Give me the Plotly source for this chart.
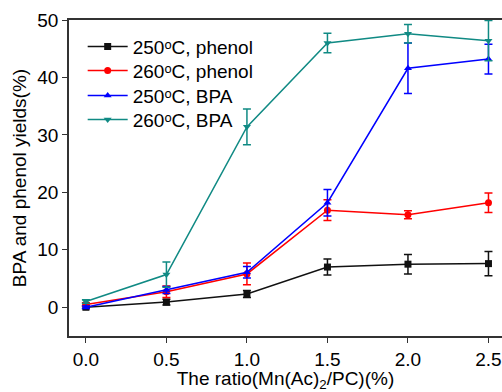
import plotly.graph_objects as go

x = [0.0, 0.5, 1.0, 1.5, 2.0, 2.5]

phenol_250 = [0.0, 0.9, 2.3, 7.0, 7.5, 7.6]
phenol_250_err = [0.2, 0.5, 0.6, 1.4, 1.7, 2.1]

phenol_260 = [0.5, 2.7, 5.8, 16.9, 16.1, 18.2]
phenol_260_err = [0.3, 1.0, 1.9, 1.8, 0.7, 1.7]

bpa_250 = [0.0, 3.0, 6.1, 18.2, 41.6, 43.2]
bpa_250_err = [0.2, 0.6, 1.0, 2.3, 4.4, 2.6]

bpa_260 = [1.0, 5.7, 31.4, 46.0, 47.6, 46.4]
bpa_260_err = [0.3, 2.2, 3.1, 1.7, 1.6, 3.5]

names = ["250ᵒC, phenol", "260ᵒC, phenol", "250ᵒC, BPA", "260ᵒC, BPA"]
series = [phenol_250, phenol_260, bpa_250, bpa_260]
errors = [phenol_250_err, phenol_260_err, bpa_250_err, bpa_260_err]
colors = ["#111111", "#ff0000", "#0000ff", "#108a84"]
symbols = ["square", "circle", "triangle-up", "triangle-down"]
legend_ids = ["legend", "legend2", "legend3", "legend4"]
legend_y = [0.976, 0.900, 0.821, 0.745]

fig = go.Figure()
for name, y, e, c, s, lg in zip(names, series, errors, colors, symbols, legend_ids):
    fig.add_trace(go.Scatter(
        x=x, y=y, name=name, mode="lines+markers", legend=lg,
        line=dict(color=c, width=1.5),
        marker=dict(symbol=s, size=7, color=c),
        error_y=dict(type="data", array=e, visible=True, color=c,
                     thickness=1.5, width=4),
    ))

legend_common = dict(x=0.0316, xanchor="left", yanchor="top",
                     bgcolor="rgba(0,0,0,0)", font=dict(size=19),
                     tracegroupgap=0, itemwidth=40)
legends = {lg: dict(legend_common, y=ly) for lg, ly in zip(legend_ids, legend_y)}

fig.update_layout(
    width=502, height=392,
    margin=dict(l=69, r=0, t=20, b=56),
    plot_bgcolor="white", paper_bgcolor="white",
    font=dict(family="Liberation Sans, Arial, sans-serif", size=19, color="black"),
    showlegend=True,
    xaxis=dict(range=[-0.105, 2.584], tickvals=[0, 0.5, 1.0, 1.5, 2.0, 2.5],
               ticktext=["0.0", "0.5", "1.0", "1.5", "2.0", "2.5"],
               showline=True, linecolor="#333", linewidth=1.5, mirror=True,
               ticks="outside", ticklen=5, tickwidth=1.2, tickcolor="#333",
               showgrid=False, zeroline=False,
               title=dict(text="The ratio(Mn(Ac)<sub>2</sub>/PC)(%)", standoff=6,
                          font=dict(size=19))),
    yaxis=dict(range=[-5, 50], tickvals=[0, 10, 20, 30, 40, 50],
               showline=True, linecolor="#333", linewidth=1.5,
               ticks="outside", ticklen=5, tickwidth=1.2, tickcolor="#333",
               showgrid=False, zeroline=False,
               title=dict(text="BPA and phenol yields(%)", standoff=6,
                          font=dict(size=19))),
    **legends,
)

fig.write_html("out.html")
